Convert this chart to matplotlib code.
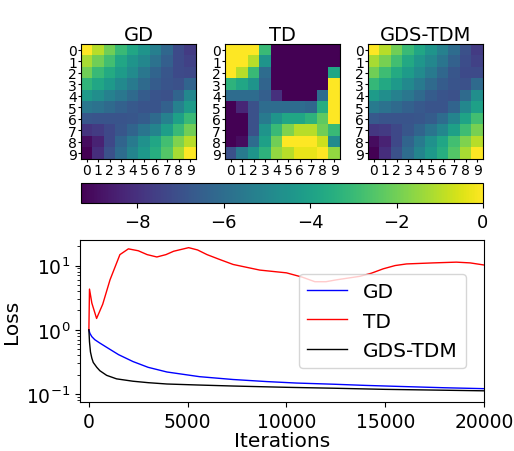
import numpy as np
import matplotlib
matplotlib.use("Agg")
import matplotlib.pyplot as plt

# log-scale entries
gd = [
    [0.0, -1.0, -2.0, -3.0, -3.8, -4.5, -5.3, -6.2, -7.2, -7.7],
    [-1.2, -2.0, -2.8, -3.8, -4.5, -5.0, -5.8, -6.5, -7.2, -7.5],
    [-2.0, -3.0, -3.6, -4.2, -4.8, -5.6, -6.3, -6.8, -7.2, -7.3],
    [-3.2, -3.8, -4.3, -4.9, -5.5, -6.1, -6.6, -6.9, -7.0, -6.3],
    [-4.3, -4.7, -5.2, -5.6, -6.1, -6.6, -6.9, -7.0, -6.3, -5.0],
    [-5.6, -5.8, -6.1, -6.4, -6.7, -6.9, -6.9, -6.4, -5.2, -4.2],
    [-6.8, -6.9, -6.9, -6.9, -6.8, -6.6, -6.1, -5.2, -4.0, -3.0],
    [-7.9, -7.7, -7.3, -6.8, -6.3, -5.7, -5.1, -4.1, -3.0, -2.0],
    [-9.0, -8.4, -7.3, -6.3, -5.5, -4.6, -3.8, -2.8, -1.8, -1.0],
    [-9.3, -8.1, -7.0, -6.0, -5.1, -4.3, -3.5, -2.5, -1.2, 0.0],
]
td = [
    [0.0, 0.0, 0.0, -3.0, -9.3, -9.3, -9.3, -9.3, -9.3, -9.3],
    [0.0, 0.0, -1.0, -4.5, -9.3, -9.3, -9.3, -9.3, -9.3, -9.3],
    [0.0, -1.0, -3.0, -6.0, -9.3, -9.3, -9.3, -9.3, -9.3, -3.8],
    [-3.3, -3.8, -4.5, -6.3, -9.3, -9.3, -9.3, -9.3, -9.3, 0.0],
    [-6.0, -6.0, -6.0, -6.5, -8.0, -9.3, -9.3, -9.3, -6.0, 0.0],
    [-9.3, -8.3, -7.0, -6.0, -6.0, -6.0, -6.0, -6.2, -3.5, 0.0],
    [-9.3, -9.3, -7.0, -5.5, -4.5, -3.8, -3.8, -3.3, -2.3, 0.0],
    [-9.3, -9.3, -7.0, -4.5, -3.0, -1.8, -1.0, -1.0, -2.0, -3.0],
    [-9.3, -9.0, -6.0, -4.0, -2.0, 0.0, 0.0, 0.0, -0.7, -4.8],
    [-7.0, -5.5, -4.5, -3.3, -1.5, -1.0, -0.3, -0.3, 0.0, -1.5],
]
gds_tdm = [
    [0.0, -1.0, -2.0, -3.0, -3.8, -4.5, -5.2, -6.0, -7.0, -7.7],
    [-1.2, -1.9, -2.8, -3.7, -4.4, -5.0, -5.7, -6.4, -7.1, -7.5],
    [-2.0, -2.9, -3.6, -4.2, -4.8, -5.5, -6.2, -6.8, -7.2, -7.2],
    [-3.1, -3.7, -4.3, -4.9, -5.5, -6.1, -6.6, -6.9, -7.0, -6.1],
    [-4.2, -4.7, -5.2, -5.6, -6.1, -6.6, -6.9, -7.0, -6.1, -4.7],
    [-5.5, -5.8, -6.1, -6.4, -6.7, -6.9, -6.9, -6.3, -5.0, -4.0],
    [-6.7, -6.9, -6.9, -6.9, -6.8, -6.6, -6.0, -5.1, -3.9, -2.8],
    [-7.8, -7.7, -7.3, -6.8, -6.3, -5.7, -5.0, -4.0, -2.9, -1.9],
    [-9.0, -8.4, -7.3, -6.3, -5.5, -4.6, -3.8, -2.8, -1.8, -1.0],
    [-9.3, -8.1, -7.0, -6.0, -5.1, -4.3, -3.5, -2.5, -1.2, 0.0],
]
titles = ["GD", "TD", "GDS-TDM"]

# loss curves
gd_it = [0, 50, 150, 300, 557, 1000, 1500, 2230, 3000, 3950, 5600, 7300, 9000, 10500, 12350, 14000, 15750, 18000, 20000]
gd_loss = [1.0, 0.88, 0.78, 0.7, 0.62, 0.51, 0.41, 0.32, 0.26, 0.22, 0.186, 0.168, 0.156, 0.148, 0.142, 0.136, 0.131, 0.125, 0.121]
td_it = [0, 30, 150, 390, 700, 1070, 1570, 2000, 2500, 2950, 3440, 3900, 4290, 5050, 5500, 5980, 6600, 7300, 8650, 10000,
         10800, 11440, 12000, 12540, 13720, 14300, 14900, 15500, 16080, 17430, 18600, 19300, 20000]
td_loss = [1.0, 4.3, 2.6, 1.5, 2.5, 6.0, 14.8, 18.2, 17.0, 14.8, 13.6, 14.8, 16.7, 19.0, 17.5, 14.8, 12.5, 10.4, 8.5, 7.7,
           6.6, 5.6, 5.6, 6.0, 6.8, 7.6, 8.9, 10.0, 10.6, 11.0, 11.3, 11.0, 10.2]
gdstdm_it = [0, 30, 80, 150, 220, 400, 557, 900, 1400, 2230, 3000, 3950, 5500, 7300, 10000, 12350, 15000, 17500, 20000]
gdstdm_loss = [1.0, 0.65, 0.45, 0.36, 0.31, 0.26, 0.23, 0.195, 0.172, 0.158, 0.15, 0.143, 0.138, 0.133, 0.127, 0.123, 0.118, 0.115, 0.112]

W, H = 514, 452
fig = plt.figure(figsize=(W / 100, H / 100), dpi=100)


def box(x0, y0, x1, y1):
    return [x0 / W, 1 - y1 / H, (x1 - x0) / W, (y1 - y0) / H]


vmin, vmax = -9.3, 0
lefts = [81, 225, 368]
for left, mat, title in zip(lefts, [gd, td, gds_tdm], titles):
    ax = fig.add_axes(box(left, 45, left + 115, 160))
    im = ax.imshow(np.array(mat), cmap="viridis", vmin=vmin, vmax=vmax, aspect="auto")
    ax.set_xticks(range(10))
    ax.set_yticks(range(10))
    ax.tick_params(labelsize=10, length=2, pad=1)
    ax.set_title(title, fontsize=14, pad=3)

cax = fig.add_axes(box(81, 184, 483, 204))
cb = fig.colorbar(im, cax=cax, orientation="horizontal")
cb.set_ticks([-8, -6, -4, -2, 0])
cb.ax.tick_params(labelsize=13)

ax = fig.add_axes(box(80, 241, 484, 403))
ax.semilogy(gd_it, gd_loss, color="blue", lw=1, label="GD")
ax.semilogy(td_it, td_loss, color="red", lw=1, label="TD")
ax.semilogy(gdstdm_it, gdstdm_loss, color="black", lw=1, label="GDS-TDM")
ax.set_xlim(-450, 20000)
ax.set_ylim(0.075, 25)
ax.tick_params(labelsize=13.5)
ax.set_xlabel("Iterations", fontsize=14.5, labelpad=0)
ax.set_ylabel("Loss", fontsize=14.5)
ax.legend(fontsize=14.5, loc="center right", bbox_to_anchor=(0.98, 0.5))

fig.savefig("out.png", dpi=100)
